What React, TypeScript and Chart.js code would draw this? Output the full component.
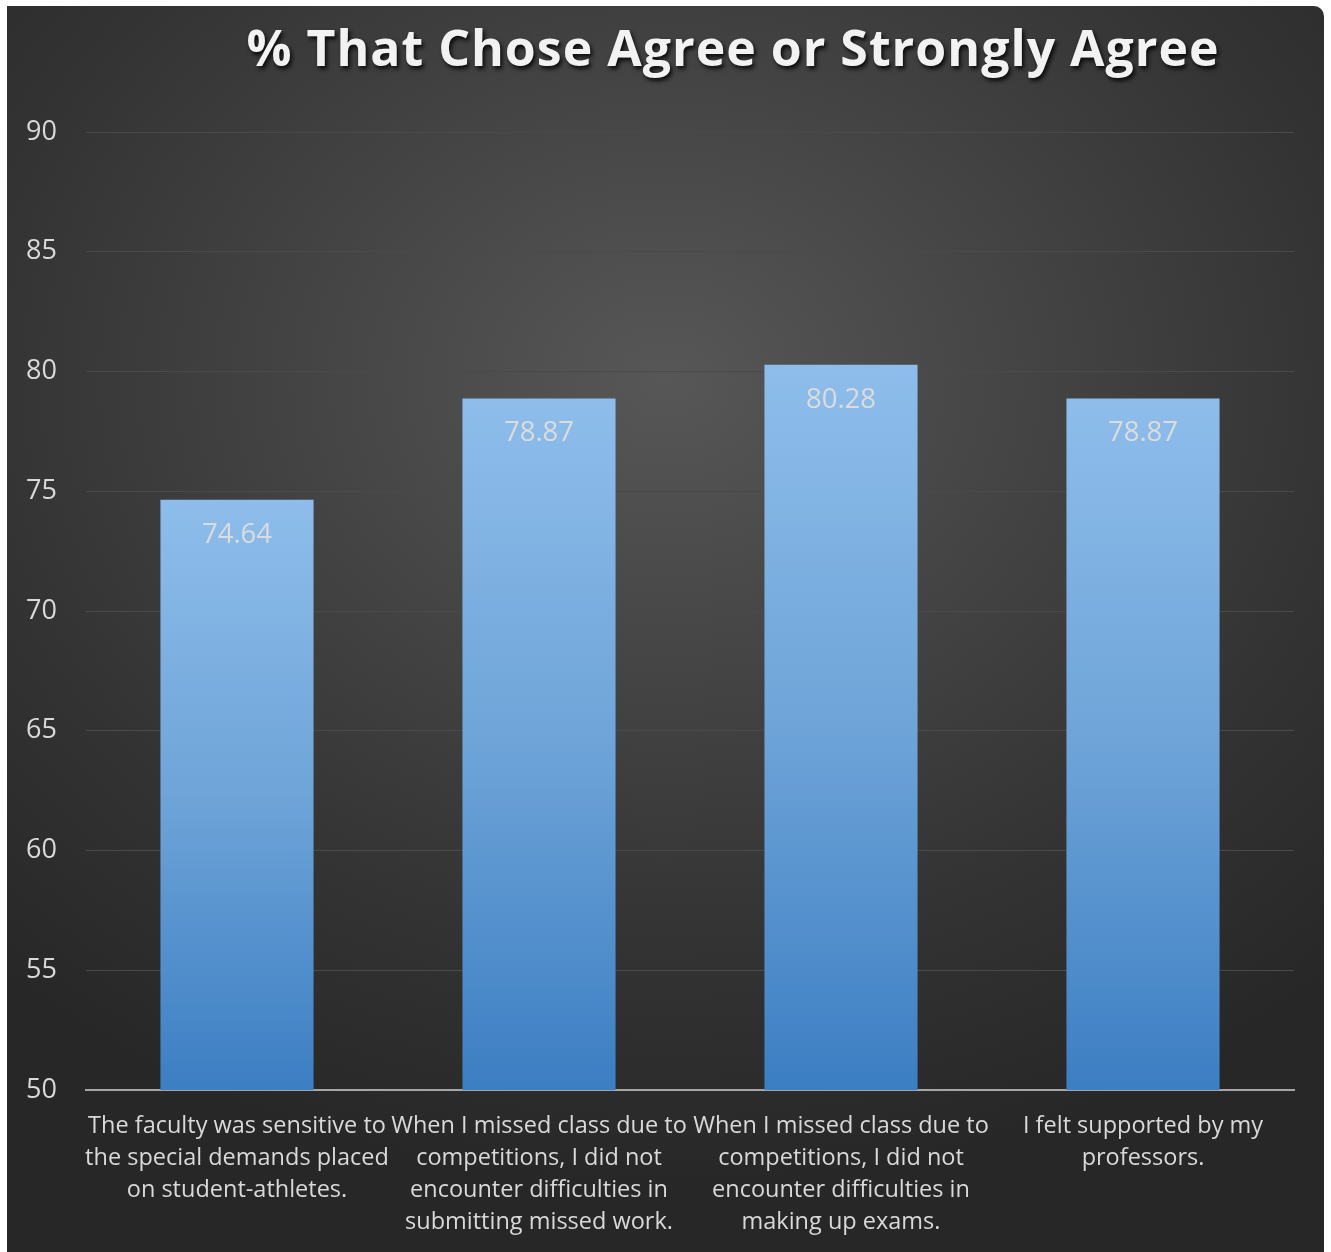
import React, { useEffect, useRef } from "react";
import { Chart, registerables } from "chart.js";

Chart.register(...registerables);

const TITLE = "% That Chose Agree or Strongly Agree";
const categories: string[][] = [
  ["The faculty was sensitive to", "the special demands placed", "on student-athletes."],
  ["When I missed class due to", "competitions, I did not", "encounter difficulties in", "submitting missed work."],
  ["When I missed class due to", "competitions, I did not", "encounter difficulties in", "making up exams."],
  ["I felt supported by my", "professors."],
];
const values: number[] = [74.64, 78.87, 80.28, 78.87];
const yMin = 50;
const yMax = 90;
const yStep = 5;

const PANEL_W = 1317;
const PANEL_H = 1246;

export default function App() {
  const ref = useRef<HTMLCanvasElement | null>(null);

  useEffect(() => {
    document.body.style.margin = "0";
    const canvas = ref.current;
    if (!canvas) return;

    const titlePlugin = {
      id: "customTitle",
      afterDraw(chart: any) {
        const ctx = chart.ctx;
        ctx.save();
        ctx.font = "bold 50px 'Open Sans'";
        ctx.fillStyle = "#f2f2f2";
        ctx.textAlign = "center";
        ctx.textBaseline = "alphabetic";
        ctx.shadowColor = "rgba(0,0,0,0.85)";
        ctx.shadowBlur = 4;
        ctx.shadowOffsetX = 2;
        ctx.shadowOffsetY = 3;
        (ctx as any).letterSpacing = "1px";
        ctx.fillText(TITLE, 726, 60);
        ctx.restore();
      },
    };

    const valueLabels = {
      id: "valueLabels",
      afterDatasetsDraw(chart: any) {
        const ctx = chart.ctx;
        const meta = chart.getDatasetMeta(0);
        ctx.save();
        ctx.font = "27.5px 'Open Sans'";
        ctx.fillStyle = "#dcdcdc";
        ctx.textAlign = "center";
        ctx.textBaseline = "middle";
        meta.data.forEach((bar: any, i: number) => {
          ctx.fillText(values[i].toFixed(2), bar.x, bar.y + 35);
        });
        ctx.restore();
      },
    };

    const chart = new Chart(canvas, {
      type: "bar",
      data: {
        labels: categories,
        datasets: [
          {
            data: values,
            backgroundColor: (c: any) => {
              const ch = c.chart;
              const area = ch.chartArea;
              if (!area) return "#6fa5d8";
              const v = c.raw as number;
              const top = ch.scales.y.getPixelForValue(v);
              const g = ch.ctx.createLinearGradient(0, top, 0, area.bottom);
              g.addColorStop(0, "#8ebdeb");
              g.addColorStop(0.5, "#6ea4d8");
              g.addColorStop(1, "#3c7ec3");
              return g;
            },
            borderWidth: 0,
            barPercentage: 0.507,
            categoryPercentage: 1,
          },
        ],
      },
      options: {
        responsive: false,
        animation: false,
        maintainAspectRatio: false,
        layout: { padding: { left: 0, right: 30, top: 126, bottom: 0 } },
        plugins: {
          legend: { display: false },
          title: { display: false },
          tooltip: { enabled: false },
        },
        scales: {
          x: {
            grid: { display: false, drawTicks: false },
            border: { display: true, color: "#a6a6a6", width: 2 },
            ticks: {
              color: "#d9d9d9",
              font: { family: "'Open Sans'", size: 23.5, lineHeight: 1.37 },
              padding: 20,
              maxRotation: 0,
              minRotation: 0,
              autoSkip: false,
            },
            afterFit: (s: any) => {
              s.height = 162;
            },
          },
          y: {
            min: yMin,
            max: yMax,
            grid: {
              color: (c: any) => (c.tick && c.tick.value === yMin ? "rgba(0,0,0,0)" : "#4a4a4a"),
              lineWidth: 1,
              drawTicks: false,
            },
            border: { display: false },
            ticks: {
              stepSize: yStep,
              color: "#d9d9d9",
              font: { family: "'Open Sans'", size: 27 },
              padding: 29,
            },
            afterFit: (s: any) => {
              s.width = 79;
            },
          },
        },
      },
      plugins: [titlePlugin, valueLabels],
    });

    return () => chart.destroy();
  }, []);

  return (
    <div style={{ position: "relative", width: 1331, height: 1252, background: "#ffffff", overflow: "hidden" }}>
      <div
        style={{
          position: "absolute",
          left: 7,
          top: 6,
          width: PANEL_W,
          height: PANEL_H,
          borderTopRightRadius: 10,
          background:
            "radial-gradient(ellipse 75% 65% at 50% 30%, #575757 0%, #454545 35%, #333333 70%, #272727 100%)",
        }}
      >
        <canvas ref={ref} width={PANEL_W} height={PANEL_H} style={{ display: "block" }} />
      </div>
    </div>
  );
}
